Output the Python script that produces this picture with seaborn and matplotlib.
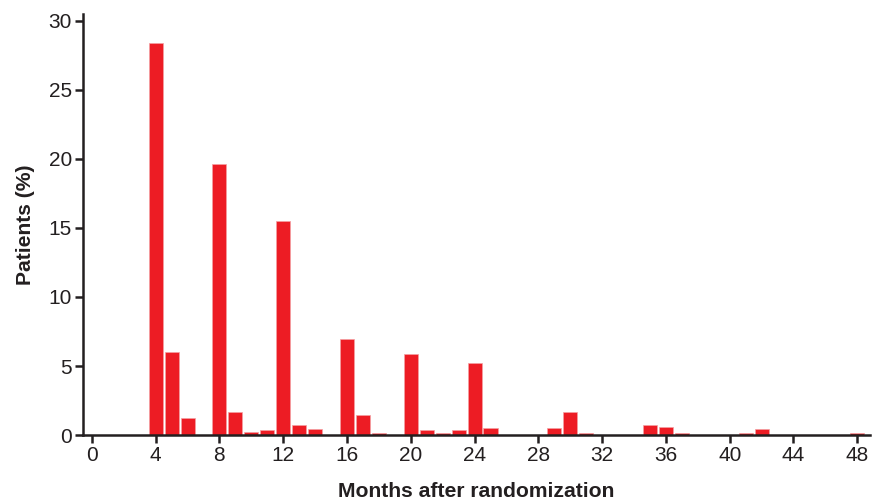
import matplotlib
matplotlib.use("Agg")
import numpy as np
import pandas as pd
import matplotlib.pyplot as plt
import seaborn as sns

# Distribution of patients (%) by month after randomization
months = [4, 5, 6, 8, 9, 10, 11, 12, 13, 14, 16, 17, 18, 20, 21, 22, 23, 24, 25,
          29, 30, 31, 35, 36, 37, 41, 42, 48]
patients_pct = [28.4, 6.0, 1.2, 19.6, 1.7, 0.25, 0.35, 15.5, 0.7, 0.45, 6.95, 1.45, 0.15,
                5.9, 0.35, 0.15, 0.35, 5.2, 0.5, 0.5, 1.65, 0.15, 0.7, 0.55, 0.15, 0.15, 0.4, 0.15]
x_ticks = list(range(0, 49, 4))
y_ticks = [0, 5, 10, 15, 20, 25, 30]

df = pd.DataFrame({"month": months, "pct": patients_pct})

sns.set_style("ticks")
plt.rcParams['font.family'] = ['Liberation Sans', 'DejaVu Sans']
text_col = "#231F20"

fig = plt.figure(figsize=(8.73, 5.01), dpi=100)
ax = fig.add_axes([0.095, 0.1317, 0.9016, 0.8403])

sns.barplot(data=df, x="month", y="pct", native_scale=True, color="#ED1C24",
            saturation=1, width=0.88, edgecolor="#F4A0A3", linewidth=0.5, ax=ax)

ax.set_xlim(-0.56, 48.8)
ax.set_ylim(0, 30.5)
ax.set_xticks(x_ticks)
ax.set_yticks(y_ticks)
ax.tick_params(axis="both", labelsize=15, colors=text_col, width=1.8, direction="out")
ax.tick_params(axis="x", length=6, pad=2)
ax.tick_params(axis="y", length=6, pad=2)

for side in ["top", "right"]:
    ax.spines[side].set_visible(False)
for side in ["left", "bottom"]:
    ax.spines[side].set_linewidth(1.8)
    ax.spines[side].set_color(text_col)

ax.set_xlabel("Months after randomization", fontsize=15.2, weight="bold", color=text_col, labelpad=12)
ax.set_ylabel("Patients (%)", fontsize=15.2, weight="bold", color=text_col, labelpad=10)

plt.savefig("out.png", dpi=100)
plt.close()
